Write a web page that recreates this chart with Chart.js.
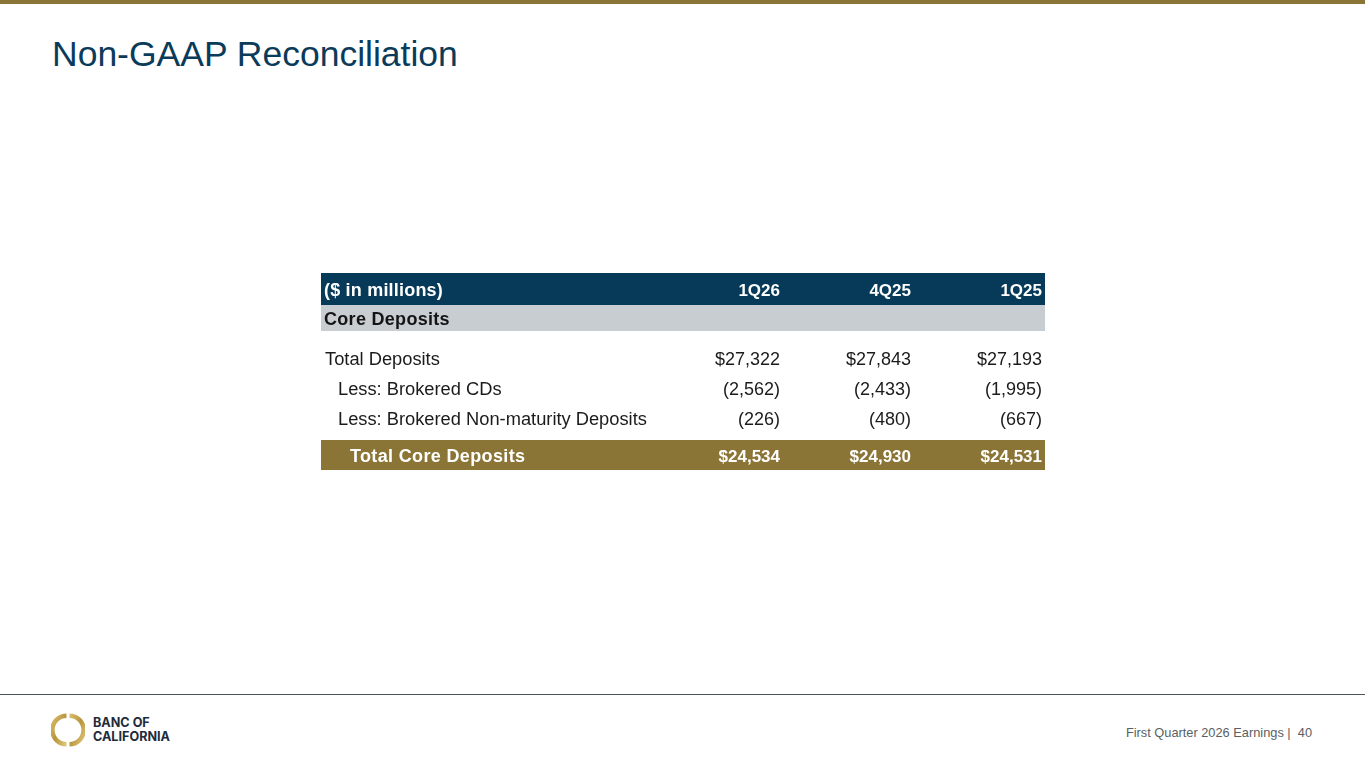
<!DOCTYPE html>
<html>
<head>
<meta charset="utf-8">
<script src="https://cdn.jsdelivr.net/npm/chart.js@4.4.1/dist/chart.umd.min.js"></script>
<style>
  html, body { margin: 0; padding: 0; background: #fff; }
  body { width: 1365px; height: 768px; position: relative; overflow: hidden; font-family: "Liberation Sans", Arial, sans-serif; }
  .topbar { position: absolute; left: 0; top: 0; width: 1365px; height: 4px; background: #8b7536; }
  .title { position: absolute; left: 52px; top: 36px; font-size: 35.5px; line-height: 36px; color: #0b3b5a; }
  .rule { position: absolute; left: 0; top: 694px; width: 1365px; height: 1px; background: #4b5459; }
  .foot { position: absolute; right: 53px; top: 725px; font-size: 12.8px; line-height: 15px; color: #5a5f63; white-space: pre; }
  .brand { position: absolute; left: 93px; top: 716px; font-family: Inter, "Open Sans", sans-serif; font-weight: 700; font-size: 12.6px; line-height: 14px; color: #1d2b3a; }
  .logo { position: absolute; left: 51px; top: 713px; }
  canvas { position: absolute; left: 321px; }
</style>
</head>
<body>
<div class="topbar"></div>
<div class="title">Non-GAAP Reconciliation</div>

<canvas id="headRow" width="724" height="32" style="top:273px"></canvas>
<canvas id="groupRow" width="724" height="26" style="top:305px"></canvas>
<canvas id="bodyRows" width="724" height="90" style="top:343px"></canvas>
<canvas id="totalRow" width="724" height="30" style="top:440px"></canvas>

<div class="rule"></div>
<svg class="logo" width="34" height="34" viewBox="0 0 34 34">
  <defs>
    <linearGradient id="gold" x1="0" y1="0" x2="1" y2="1">
      <stop offset="0" stop-color="#d8bd6a"/>
      <stop offset="0.5" stop-color="#b8963f"/>
      <stop offset="1" stop-color="#e0c878"/>
    </linearGradient>
  </defs>
  <path d="M15.5 2.8 A14.2 14.2 0 0 0 15.5 31.2" fill="none" stroke="url(#gold)" stroke-width="4.6"/>
  <path d="M18.5 2.8 A14.2 14.2 0 0 1 18.5 31.2" fill="none" stroke="url(#gold)" stroke-width="4.6"/>
</svg>
<div class="brand">BANC OF<br>CALIFORNIA</div>
<div class="foot">First Quarter 2026 Earnings |  40</div>

<script>
const quarters = ['1Q26', '4Q25', '1Q25'];
const headLabel = ['($ in millions)'];
const groupLabel = ['Core Deposits'];
const bodyLabels = ['Total Deposits', 'Less: Brokered CDs', 'Less: Brokered Non-maturity Deposits'];
const totalDeposits = [27322, 27843, 27193];
const brokeredCDs = [-2562, -2433, -1995];
const brokeredNonMaturity = [-226, -480, -667];
const totalLabel = ['Total Core Deposits'];
const totalCoreDeposits = [24534, 24930, 24531];

function money(v, dollar) {
  const s = Math.abs(v).toLocaleString('en-US');
  if (v < 0) return '(' + s + ')';
  return (dollar ? '$' : '') + s;
}

// one row of cells per dataset; cell text sits where the scales put the point
function cellsPlugin(look) {
  return {
    id: 'cells',
    beforeDatasetsDraw(chart) {
      const ctx = chart.ctx;
      const y = chart.scales.y;
      const band = chart.height / y.getLabels().length;
      if (look.fill) {
        ctx.save();
        ctx.fillStyle = look.fill;
        y.getLabels().forEach((l, i) => {
          const cy = y.getPixelForValue(i);
          ctx.fillRect(0, cy - band / 2, chart.width, band);
        });
        ctx.restore();
      }
    },
    afterDatasetsDraw(chart) {
      const ctx = chart.ctx;
      const x = chart.scales.x;
      const y = chart.scales.y;
      const half = (chart.chartArea.right - chart.chartArea.left) / x.getLabels().length / 2;
      ctx.save();
      ctx.fillStyle = look.color;
      ctx.textBaseline = 'middle';
      ctx.font = look.labelFont;
      ctx.letterSpacing = look.spacing || '0px';
      y.getLabels().forEach((l, i) => {
        ctx.textAlign = 'left';
        ctx.fillText(l, look.indent[i], y.getPixelForValue(i) + look.shift);
      });
      ctx.font = look.font;
      ctx.letterSpacing = '0px';
      chart.data.datasets.forEach((ds, di) => {
        chart.getDatasetMeta(di).data.forEach((pt, j) => {
          ctx.textAlign = 'right';
          ctx.fillText(ds.data[j].text, pt.x + half, pt.y + look.shift);
        });
      });
      ctx.restore();
    }
  };
}

function tableSection(id, rowLabels, rowTexts, look) {
  return new Chart(document.getElementById(id), {
    type: 'scatter',
    data: {
      datasets: rowTexts.map((texts, i) => ({
        label: rowLabels[i],
        data: texts.map((t, j) => ({ x: quarters[j], y: rowLabels[i], text: t })),
        pointRadius: 0
      }))
    },
    options: {
      responsive: false,
      animation: false,
      events: [],
      layout: { padding: { left: 328, right: 3, top: 0, bottom: 0 } },
      plugins: { legend: { display: false }, tooltip: { enabled: false } },
      scales: {
        x: { type: 'category', labels: quarters, offset: true, display: false },
        y: { type: 'category', labels: rowLabels, offset: true, display: false }
      }
    },
    plugins: [cellsPlugin(look)]
  });
}

const boldLabel = 'bold 18px "Liberation Sans", Arial';
const boldValue = 'bold 17px "Liberation Sans", Arial';

tableSection('headRow', headLabel, [quarters], {
  fill: '#063a58', color: '#ffffff', labelFont: boldLabel, spacing: '0.2px', font: boldValue, indent: [3], shift: 2.5
});
tableSection('groupRow', groupLabel, [], {
  fill: '#c8cdd1', color: '#141414', labelFont: boldLabel, spacing: '0.3px', font: boldValue, indent: [3], shift: 2.5
});
tableSection('bodyRows', bodyLabels, [
  totalDeposits.map(v => money(v, true)),
  brokeredCDs.map(v => money(v, false)),
  brokeredNonMaturity.map(v => money(v, false))
], {
  fill: null, color: '#1b1b1b', labelFont: '18.3px "Liberation Sans", Arial', font: '18px "Liberation Sans", Arial', indent: [4, 17, 17], shift: 2
});
tableSection('totalRow', totalLabel, [totalCoreDeposits.map(v => money(v, true))], {
  fill: '#8b7536', color: '#ffffff', labelFont: boldLabel, spacing: '0.35px', font: boldValue, indent: [29], shift: 2
});
</script>
</body>
</html>
